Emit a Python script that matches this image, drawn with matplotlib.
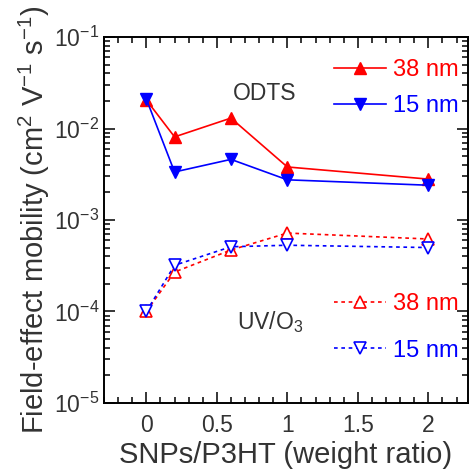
import matplotlib.pyplot as plt
from matplotlib.ticker import LogLocator, MultipleLocator, NullFormatter

plt.rcParams["font.family"] = ["Liberation Sans", "DejaVu Sans"]
plt.rcParams["mathtext.fontset"] = "custom"
plt.rcParams["mathtext.rm"] = "Liberation Sans"
plt.rcParams["mathtext.it"] = "Liberation Sans"
plt.rcParams["axes.unicode_minus"] = False

# weight ratio SNPs/P3HT
ratio = [0, 0.2, 0.6, 1, 2]

# field-effect mobility (cm^2 V^-1 s^-1)
odts_38 = [0.0205, 0.0081, 0.013, 0.0038, 0.0028]
odts_15 = [0.021, 0.00335, 0.0046, 0.00275, 0.0024]
uvo3_38 = [1.0e-4, 2.7e-4, 4.7e-4, 7.2e-4, 6.2e-4]
uvo3_15 = [1.0e-4, 3.2e-4, 5.1e-4, 5.3e-4, 5.0e-4]

labels = ["38 nm", "15 nm"]
RED = "#ff0000"
BLUE = "#0000ff"
TXT = "#333333"


def main() -> None:
    fig = plt.figure(figsize=(4.73, 4.70), dpi=100)
    ax = fig.add_axes([0.220, 0.1426, 0.769, 0.7786])

    dots = (0, (2.2, 2.2))
    h1, = ax.plot(ratio, odts_38, color=RED, lw=1.2, marker="^", ms=8, label=labels[0])
    h2, = ax.plot(ratio, odts_15, color=BLUE, lw=1.2, marker="v", ms=8, label=labels[1])
    h3, = ax.plot(ratio, uvo3_38, color=RED, lw=1.2, ls=dots, marker="^", ms=8,
                  mfc="white", mew=1.2, label=labels[0])
    h4, = ax.plot(ratio, uvo3_15, color=BLUE, lw=1.2, ls=dots, marker="v", ms=8,
                  mfc="white", mew=1.2, label=labels[1])

    ax.set_yscale("log")
    ax.set_ylim(1e-5, 1e-1)
    ax.set_xlim(-0.3, 2.28)
    ax.set_xticks([0, 0.5, 1, 1.5, 2])
    ax.set_xticklabels(["0", "0.5", "1", "1.5", "2"])
    ax.xaxis.set_minor_locator(MultipleLocator(0.1))
    ax.set_yticks([1e-5, 1e-4, 1e-3, 1e-2, 1e-1])
    ax.set_yticklabels([r"10$^{-5}$", r"10$^{-4}$", r"10$^{-3}$", r"10$^{-2}$", r"10$^{-1}$"])
    ax.yaxis.set_minor_locator(LogLocator(base=10, subs=range(2, 10), numticks=20))
    ax.yaxis.set_minor_formatter(NullFormatter())

    ax.tick_params(which="both", direction="in", top=True, right=True, width=1.1,
                   colors="black", labelcolor=TXT, labelsize=16.5)
    ax.tick_params(which="major", length=8)
    ax.tick_params(which="minor", length=4)
    ax.tick_params(axis="x", pad=8)
    for sp in ax.spines.values():
        sp.set_linewidth(1.4)

    ax.set_xlabel("SNPs/P3HT (weight ratio)", fontsize=21, color=TXT, labelpad=3)
    ax.set_ylabel(r"Field-effect mobility (cm$^2$ V$^{-1}$ s$^{-1}$)", fontsize=21,
                  color=TXT, labelpad=1)

    ax.text(0.442, 0.845, "ODTS", transform=ax.transAxes, ha="center", va="center",
            fontsize=16.5, color=TXT)
    ax.text(0.456, 0.222, r"UV/O$_3$", transform=ax.transAxes, ha="center", va="center",
            fontsize=16.5, color=TXT)

    leg1 = ax.legend(handles=[h1, h2], loc="upper right", bbox_to_anchor=(0.975, 0.94),
                     frameon=False, fontsize=17, handlelength=2.2, handletextpad=0.3,
                     labelspacing=0.6, borderpad=0, borderaxespad=0, labelcolor="linecolor")
    ax.add_artist(leg1)
    ax.legend(handles=[h3, h4], loc="upper right", bbox_to_anchor=(0.975, 0.30),
              frameon=False, fontsize=17, handlelength=2.2, handletextpad=0.3,
              labelspacing=1.03, borderpad=0, borderaxespad=0, labelcolor="linecolor")

    fig.savefig("out.png", dpi=100)
    plt.close(fig)


if __name__ == "__main__":
    main()
